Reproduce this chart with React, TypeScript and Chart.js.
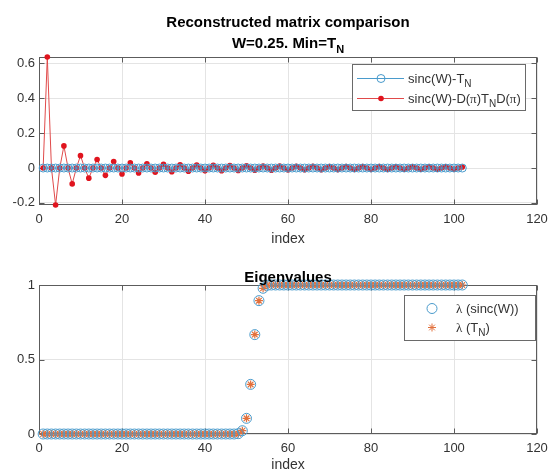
import React, { useEffect, useRef } from 'react';
import { Chart, registerables } from 'chart.js';

Chart.register(...registerables);

// ---------------- data ----------------
const INDEX = [
  1, 2, 3, 4, 5, 6, 7, 8, 9, 10, 11, 12, 13, 14, 15, 16, 17, 18, 19, 20,
  21, 22, 23, 24, 25, 26, 27, 28, 29, 30, 31, 32, 33, 34, 35, 36, 37, 38, 39, 40,
  41, 42, 43, 44, 45, 46, 47, 48, 49, 50, 51, 52, 53, 54, 55, 56, 57, 58, 59, 60,
  61, 62, 63, 64, 65, 66, 67, 68, 69, 70, 71, 72, 73, 74, 75, 76, 77, 78, 79, 80,
  81, 82, 83, 84, 85, 86, 87, 88, 89, 90, 91, 92, 93, 94, 95, 96, 97, 98, 99, 100,
  101, 102,
];

const X_TICKS = [0, 20, 40, 60, 80, 100, 120];
const TOP_Y_TICKS = [-0.2, 0, 0.2, 0.4, 0.6];
const TOP_Y_TICK_LABELS = ['-0.2', '0', '0.2', '0.4', '0.6'];
const BOTTOM_Y_TICKS = [0, 0.5, 1];
const BOTTOM_Y_TICK_LABELS = ['0', '0.5', '1'];

// sinc(W) - T_N
const DIFF_TN = [
  0, 0, 0, 0, 0, 0, 0, 0, 0, 0,
  0, 0, 0, 0, 0, 0, 0, 0, 0, 0,
  0, 0, 0, 0, 0, 0, 0, 0, 0, 0,
  0, 0, 0, 0, 0, 0, 0, 0, 0, 0,
  0, 0, 0, 0, 0, 0, 0, 0, 0, 0,
  0, 0, 0, 0, 0, 0, 0, 0, 0, 0,
  0, 0, 0, 0, 0, 0, 0, 0, 0, 0,
  0, 0, 0, 0, 0, 0, 0, 0, 0, 0,
  0, 0, 0, 0, 0, 0, 0, 0, 0, 0,
  0, 0, 0, 0, 0, 0, 0, 0, 0, 0,
  0, 0,
];

// sinc(W) - D(pi) T_N D(pi)
const DIFF_DPI = [
  0, 0.637, 0, -0.212, 0, 0.127, 0, -0.091, 0, 0.071,
  0, -0.058, 0, 0.049, 0, -0.042, 0, 0.037, 0, -0.034,
  0, 0.030, 0, -0.028, 0, 0.025, 0, -0.024, 0, 0.022,
  0, -0.021, 0, 0.019, 0, -0.018, 0, 0.017, 0, -0.016,
  0, 0.016, 0, -0.015, 0, 0.014, 0, -0.014, 0, 0.013,
  0, -0.012, 0, 0.012, 0, -0.012, 0, 0.011, 0, -0.011,
  0, 0.010, 0, -0.010, 0, 0.010, 0, -0.010, 0, 0.009,
  0, -0.009, 0, 0.009, 0, -0.008, 0, 0.008, 0, -0.008,
  0, 0.008, 0, -0.008, 0, 0.007, 0, -0.007, 0, 0.007,
  0, -0.007, 0, 0.007, 0, -0.007, 0, 0.007, 0, -0.006,
  0, 0.006,
];

// eigenvalues of sinc(W)
const EIG_SINC = [
  0, 0, 0, 0, 0, 0, 0, 0, 0, 0,
  0, 0, 0, 0, 0, 0, 0, 0, 0, 0,
  0, 0, 0, 0, 0, 0, 0, 0, 0, 0,
  0, 0, 0, 0, 0, 0, 0, 0, 0, 0,
  0, 0, 0, 0, 0, 0, 0, 0.002, 0.022, 0.105,
  0.333, 0.667, 0.895, 0.978, 0.998, 1, 1, 1, 1, 1,
  1, 1, 1, 1, 1, 1, 1, 1, 1, 1,
  1, 1, 1, 1, 1, 1, 1, 1, 1, 1,
  1, 1, 1, 1, 1, 1, 1, 1, 1, 1,
  1, 1, 1, 1, 1, 1, 1, 1, 1, 1,
  1, 1,
];

// eigenvalues of T_N
const EIG_TN = [
  0, 0, 0, 0, 0, 0, 0, 0, 0, 0,
  0, 0, 0, 0, 0, 0, 0, 0, 0, 0,
  0, 0, 0, 0, 0, 0, 0, 0, 0, 0,
  0, 0, 0, 0, 0, 0, 0, 0, 0, 0,
  0, 0, 0, 0, 0, 0, 0, 0.002, 0.022, 0.105,
  0.333, 0.667, 0.895, 0.978, 0.998, 1, 1, 1, 1, 1,
  1, 1, 1, 1, 1, 1, 1, 1, 1, 1,
  1, 1, 1, 1, 1, 1, 1, 1, 1, 1,
  1, 1, 1, 1, 1, 1, 1, 1, 1, 1,
  1, 1, 1, 1, 1, 1, 1, 1, 1, 1,
  1, 1,
];

// ---------------- text ----------------
type Seg = { t: string; sub?: boolean; serif?: boolean };

const TITLE_TOP_1: Seg[] = [{ t: 'Reconstructed matrix comparison' }];
const TITLE_TOP_2: Seg[] = [{ t: 'W=0.25. Min=T' }, { t: 'N', sub: true }];
const TITLE_BOTTOM: Seg[] = [{ t: 'Eigenvalues' }];
const X_LABEL = 'index';

const LEGEND_TOP_1: Seg[] = [{ t: 'sinc(W)-T' }, { t: 'N', sub: true }];
const LEGEND_TOP_2: Seg[] = [
  { t: 'sinc(W)-D(' }, { t: 'π', serif: true }, { t: ')T' }, { t: 'N', sub: true },
  { t: 'D(' }, { t: 'π', serif: true }, { t: ')' },
];
const LEGEND_BOTTOM_1: Seg[] = [{ t: 'λ', serif: true }, { t: ' (sinc(W))' }];
const LEGEND_BOTTOM_2: Seg[] = [{ t: 'λ', serif: true }, { t: ' (T' }, { t: 'N', sub: true }, { t: ')' }];

// ---------------- styles ----------------
const SANS = '"Liberation Sans", Arial, Helvetica, sans-serif';
const SERIF = '"Liberation Serif", "Times New Roman", serif';
const BLUE = '#4a9bcc';
const RED = '#e0141e';
const RED_LINE = '#e04a4a';
const ORANGE = '#e2703c';
const GRID = '#e4e4e4';
const AXIS = '#5c5c5c';
const TEXT = '#333333';

function drawSegs(ctx: CanvasRenderingContext2D, segs: Seg[], x: number, y: number, size: number, bold: boolean, align: 'left' | 'center', color: string) {
  const fontFor = (s: Seg) =>
    `${bold ? 'bold ' : ''}${s.sub ? Math.round(size * 0.75) : size}px ${s.serif ? SERIF : SANS}`;
  let total = 0;
  for (const s of segs) {
    ctx.font = fontFor(s);
    total += ctx.measureText(s.t).width;
  }
  let cx = align === 'center' ? x - total / 2 : x;
  ctx.fillStyle = color;
  ctx.textBaseline = 'alphabetic';
  ctx.textAlign = 'left';
  for (const s of segs) {
    ctx.font = fontFor(s);
    ctx.fillText(s.t, cx, y + (s.sub ? Math.round(size * 0.3) : 0));
    cx += ctx.measureText(s.t).width;
  }
}

function drawMarker(ctx: CanvasRenderingContext2D, kind: string, x: number, y: number, color: string, r: number) {
  ctx.save();
  ctx.lineWidth = 1;
  if (kind === 'circle') {
    ctx.strokeStyle = color;
    ctx.beginPath();
    ctx.arc(x, y, r, 0, Math.PI * 2);
    ctx.stroke();
  } else if (kind === 'dot') {
    ctx.fillStyle = color;
    ctx.beginPath();
    ctx.arc(x, y, r, 0, Math.PI * 2);
    ctx.fill();
  } else if (kind === 'star') {
    ctx.strokeStyle = color;
    ctx.beginPath();
    const d = r * Math.SQRT1_2;
    ctx.moveTo(x - r, y); ctx.lineTo(x + r, y);
    ctx.moveTo(x, y - r); ctx.lineTo(x, y + r);
    ctx.moveTo(x - d, y - d); ctx.lineTo(x + d, y + d);
    ctx.moveTo(x - d, y + d); ctx.lineTo(x + d, y - d);
    ctx.stroke();
  }
  ctx.restore();
}

type LegendEntry = { segs: Seg[]; marker: string; color: string; r: number; line?: string; rowY: number };
type DecorCfg = {
  titles: { segs: Seg[]; y: number }[];
  legend: { x: number; y: number; w: number; h: number; lineX0: number; lineX1: number; markerX: number; textX: number; entries: LegendEntry[] };
};

function makeDecor(cfg: DecorCfg) {
  return {
    id: 'matlabDecor',
    beforeDatasetsDraw(chart: any) {
      const { ctx, chartArea: a, scales } = chart;
      ctx.save();
      ctx.strokeStyle = AXIS;
      ctx.lineWidth = 1;
      const L = Math.round(a.left) + 0.5, R = Math.round(a.right) - 0.5;
      const T = Math.round(a.top) + 0.5, B = Math.round(a.bottom) - 0.5;
      ctx.strokeRect(L, T, R - L, B - T);
      const tl = 5;
      ctx.beginPath();
      for (const t of scales.x.ticks) {
        const px = Math.round(scales.x.getPixelForValue(t.value)) + 0.5;
        ctx.moveTo(px, B); ctx.lineTo(px, B - tl);
        ctx.moveTo(px, T); ctx.lineTo(px, T + tl);
      }
      for (const t of scales.y.ticks) {
        const py = Math.round(scales.y.getPixelForValue(t.value)) + 0.5;
        ctx.moveTo(L, py); ctx.lineTo(L + tl, py);
        ctx.moveTo(R, py); ctx.lineTo(R - tl, py);
      }
      ctx.stroke();
      ctx.restore();
    },
    afterDraw(chart: any) {
      const { ctx, chartArea: a } = chart;
      ctx.save();
      const cx = (a.left + a.right) / 2;
      for (const t of cfg.titles) drawSegs(ctx, t.segs, cx, t.y, 15, true, 'center', '#000');
      const g = cfg.legend;
      ctx.fillStyle = '#ffffff';
      ctx.fillRect(g.x, g.y, g.w, g.h);
      ctx.strokeStyle = '#6a6a6a';
      ctx.lineWidth = 1;
      ctx.strokeRect(g.x + 0.5, g.y + 0.5, g.w, g.h);
      for (const e of g.entries) {
        if (e.line) {
          ctx.strokeStyle = e.line;
          ctx.beginPath();
          ctx.moveTo(g.lineX0, e.rowY + 0.5);
          ctx.lineTo(g.lineX1, e.rowY + 0.5);
          ctx.stroke();
        }
        drawMarker(ctx, e.marker, g.markerX, e.rowY + 0.5, e.color, e.r);
        drawSegs(ctx, e.segs, g.textX, e.rowY + 5, 13, false, 'left', TEXT);
      }
      ctx.restore();
    },
  };
}

function pts(ys: number[]) {
  return INDEX.map((x, i) => ({ x, y: ys[i] }));
}

function xScale(height: number, titlePadBottom: number) {
  return {
    type: 'linear',
    min: 0,
    max: 120,
    afterBuildTicks: (s: any) => { s.ticks = X_TICKS.map((v) => ({ value: v })); },
    afterFit: (s: any) => { s.height = height; },
    grid: { color: GRID, lineWidth: 1, drawTicks: false },
    border: { display: false },
    ticks: { color: TEXT, font: { family: SANS, size: 13 }, padding: 7, maxRotation: 0, autoSkip: false, callback: (v: any) => String(v) },
    title: { display: true, text: X_LABEL, color: TEXT, font: { family: SANS, size: 14 }, padding: { top: 0, bottom: titlePadBottom } },
  };
}

function yScale(min: number, max: number, ticks: number[], labels: string[]) {
  return {
    type: 'linear',
    min,
    max,
    afterBuildTicks: (s: any) => { s.ticks = ticks.map((v) => ({ value: v })); },
    afterFit: (s: any) => { s.width = 39; },
    grid: { color: GRID, lineWidth: 1, drawTicks: false },
    border: { display: false },
    ticks: {
      color: TEXT,
      font: { family: SANS, size: 13 },
      padding: 4,
      autoSkip: false,
      callback: (v: any) => {
        const i = ticks.findIndex((t) => Math.abs(t - v) < 1e-9);
        return i >= 0 ? labels[i] : '';
      },
    },
  };
}

export default function App() {
  const topRef = useRef<HTMLCanvasElement>(null);
  const botRef = useRef<HTMLCanvasElement>(null);

  useEffect(() => {
    document.body.style.margin = '0';
    const top = new Chart(topRef.current!, {
      type: 'line',
      data: {
        datasets: [
          {
            label: 'sinc(W)-T_N',
            data: pts(DIFF_TN),
            borderColor: BLUE,
            borderWidth: 1,
            pointStyle: 'circle',
            pointRadius: 4,
            pointBorderWidth: 1,
            pointBorderColor: BLUE,
            pointBackgroundColor: 'rgba(0,0,0,0)',
            clip: false,
          },
          {
            label: 'sinc(W)-D(π)T_ND(π)',
            data: pts(DIFF_DPI),
            borderColor: RED_LINE,
            borderWidth: 1,
            pointStyle: 'circle',
            pointRadius: 2.8,
            pointBorderWidth: 0,
            pointBorderColor: RED,
            pointBackgroundColor: RED,
            clip: false,
          },
        ],
      } as any,
      options: {
        animation: false,
        responsive: false,
        layout: { padding: { top: 57, right: 18, left: 0, bottom: 0 } },
        plugins: { legend: { display: false }, tooltip: { enabled: false }, title: { display: false } },
        scales: {
          x: xScale(45, 2),
          y: yScale(-0.212, 0.637, TOP_Y_TICKS, TOP_Y_TICK_LABELS),
        } as any,
      },
      plugins: [
        makeDecor({
          titles: [
            { segs: TITLE_TOP_1, y: 27 },
            { segs: TITLE_TOP_2, y: 48 },
          ],
          legend: {
            x: 352, y: 64, w: 173, h: 46,
            lineX0: 357, lineX1: 404, markerX: 381, textX: 408,
            entries: [
              { segs: LEGEND_TOP_1, marker: 'circle', color: BLUE, r: 4, line: BLUE, rowY: 78 },
              { segs: LEGEND_TOP_2, marker: 'dot', color: RED, r: 2.8, line: RED_LINE, rowY: 98 },
            ],
          },
        }),
      ],
    });

    const bot = new Chart(botRef.current!, {
      type: 'line',
      data: {
        datasets: [
          {
            label: 'λ (sinc(W))',
            data: pts(EIG_SINC),
            showLine: false,
            pointStyle: 'circle',
            pointRadius: 5,
            pointBorderWidth: 1,
            pointBorderColor: BLUE,
            pointBackgroundColor: 'rgba(0,0,0,0)',
            borderColor: BLUE,
            clip: false,
          },
          {
            label: 'λ (T_N)',
            data: pts(EIG_TN),
            showLine: false,
            pointStyle: 'star',
            pointRadius: 4,
            pointBorderWidth: 1.2,
            pointBorderColor: ORANGE,
            pointBackgroundColor: ORANGE,
            borderColor: ORANGE,
            clip: false,
          },
        ],
      } as any,
      options: {
        animation: false,
        responsive: false,
        layout: { padding: { top: 35, right: 18, left: 0, bottom: 0 } },
        plugins: { legend: { display: false }, tooltip: { enabled: false }, title: { display: false } },
        scales: {
          x: xScale(40, 0),
          y: yScale(0, 1, BOTTOM_Y_TICKS, BOTTOM_Y_TICK_LABELS),
        } as any,
      },
      plugins: [
        makeDecor({
          titles: [{ segs: TITLE_BOTTOM, y: 32 }],
          legend: {
            x: 404, y: 45, w: 131, h: 45,
            lineX0: 0, lineX1: 0, markerX: 432, textX: 456,
            entries: [
              { segs: LEGEND_BOTTOM_1, marker: 'circle', color: BLUE, r: 5, rowY: 58 },
              { segs: LEGEND_BOTTOM_2, marker: 'star', color: ORANGE, r: 4, rowY: 77 },
            ],
          },
        }),
      ],
    });

    return () => {
      top.destroy();
      bot.destroy();
    };
  }, []);

  return (
    <div style={{ position: 'absolute', left: 0, top: 0, width: 555, height: 474, background: '#fff' }}>
      <canvas ref={topRef} width={555} height={250} style={{ position: 'absolute', left: 0, top: 0 }} />
      <canvas ref={botRef} width={555} height={224} style={{ position: 'absolute', left: 0, top: 250 }} />
    </div>
  );
}
